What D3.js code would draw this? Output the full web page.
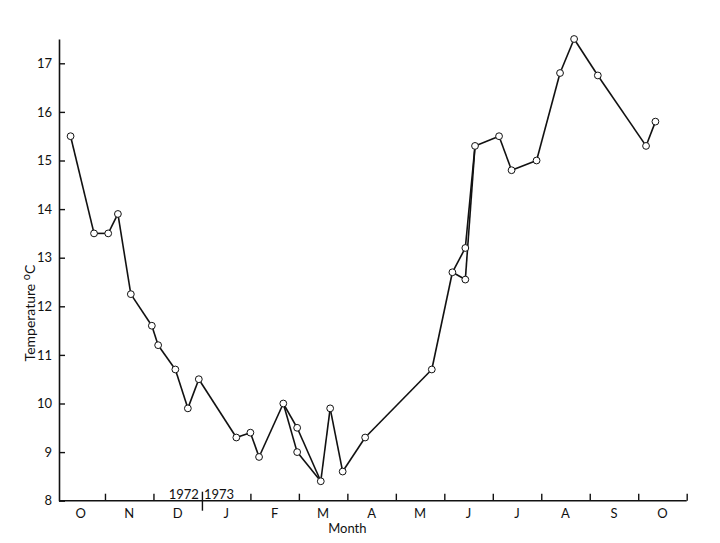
<!DOCTYPE html>
<html>
<head>
<meta charset="utf-8">
<script src="https://cdn.jsdelivr.net/npm/d3@7"></script>
<style>
  html, body { margin: 0; padding: 0; background: #fff; }
  svg { display: block; }
  text { font-family: Lato, "DejaVu Sans", sans-serif; fill: #111; }
</style>
</head>
<body>
<svg id="chart" width="720" height="543"></svg>
<script>
// Sampling dates (Oct 1972 – Oct 1973); repeated dates carry two readings
const dates = [
  "1972-10-10", "1972-10-25", "1972-11-03", "1972-11-09", "1972-11-17", "1972-11-30",
  "1972-12-04", "1972-12-15", "1972-12-23", "1972-12-30",
  "1973-01-23", "1973-02-01", "1973-02-06", "1973-02-20", "1973-02-28", "1973-02-28",
  "1973-03-15", "1973-03-21", "1973-03-29", "1973-04-12", "1973-05-24",
  "1973-06-06", "1973-06-14", "1973-06-14", "1973-06-20",
  "1973-07-05", "1973-07-13", "1973-07-29", "1973-08-13", "1973-08-22",
  "1973-09-06", "1973-10-06", "1973-10-12"
];
const temps = [
  15.5, 13.5, 13.5, 13.9, 12.25, 11.6,
  11.2, 10.7, 9.9, 10.5,
  9.3, 9.4, 8.9, 10.0, 9.5, 9.0,
  8.4, 9.9, 8.6, 9.3, 10.7,
  12.7, 13.2, 12.55, 15.3,
  15.5, 14.8, 15.0, 16.8, 17.5,
  16.75, 15.3, 15.8
];
const monthLabels = ["O", "N", "D", "J", "F", "M", "A", "M", "J", "J", "A", "S", "O"];
const yTicks = [8, 9, 10, 11, 12, 13, 14, 15, 16, 17];
const yearLabels = ["1972", "1973"];
const xTitle = "Month";
const yTitle = "Temperature";

// convert a date to months elapsed since 1 Oct 1972 (equal-width months)
function monthPos(s) {
  const [yr, mo, dy] = s.split("-").map(Number);
  const dim = new Date(yr, mo, 0).getDate();
  return (yr - 1972) * 12 + (mo - 10) + (dy - 1) / dim;
}

const data = dates.map((d, i) => ({ key: d, m: monthPos(d), t: temps[i] }));

const svg = d3.select("#chart");
const axisX0 = 59;
const x = d3.scaleLinear().domain([0, 13]).range([56.5, 686.7]);
const y = d3.scaleLinear().domain([8, 17.5]).range([500.7, 39]);

// Y axis
const yAxis = svg.append("g")
  .attr("transform", `translate(${axisX0},0)`)
  .call(d3.axisLeft(y).tickValues(yTicks).tickSize(-6).tickSizeOuter(0).tickPadding(7).tickFormat(d3.format("d")));
yAxis.select(".domain").attr("stroke", "#111").attr("stroke-width", 1.6);
yAxis.selectAll(".tick line").attr("stroke", "#111").attr("stroke-width", 1.4);
yAxis.selectAll(".tick text").attr("font-size", 13).attr("font-family", "Lato, sans-serif").attr("fill", "#111");

// X axis (month boundaries)
const bounds = d3.range(1, 14);
const xAxis = svg.append("g")
  .attr("transform", `translate(0,${y(8)})`)
  .call(d3.axisBottom(x).tickValues(bounds).tickSize(-7).tickSizeOuter(0).tickFormat(""));
xAxis.select(".domain").remove();
xAxis.append("line")
  .attr("x1", axisX0).attr("x2", x(13)).attr("y1", 0).attr("y2", 0)
  .attr("stroke", "#111").attr("stroke-width", 1.6);
xAxis.selectAll(".tick line").attr("stroke", "#111").attr("stroke-width", 1.4)
  .filter(d => d === 3).attr("y1", 10).attr("y2", -9);

// month labels
svg.append("g").selectAll("text").data(monthLabels).join("text")
  .attr("x", (d, i) => x(i + 0.5))
  .attr("y", 518)
  .attr("text-anchor", "middle")
  .attr("font-size", 13)
  .text(d => d);

// year labels around the year divide
svg.append("text").attr("x", x(3) - 3).attr("y", 499).attr("text-anchor", "end")
  .attr("font-size", 13).text(yearLabels[0]);
svg.append("text").attr("x", x(3) + 2).attr("y", 499).attr("text-anchor", "start")
  .attr("font-size", 13).text(yearLabels[1]);

// axis titles
svg.append("text").attr("x", x(6)).attr("y", 533).attr("text-anchor", "middle")
  .attr("font-size", 13).text(xTitle);
const yt = svg.append("text")
  .attr("transform", "translate(35,313) rotate(-90)")
  .attr("text-anchor", "middle")
  .attr("font-size", 14);
yt.append("tspan").text(yTitle + " ");
yt.append("tspan").attr("font-size", 11).attr("dy", -5).text("o");
yt.append("tspan").attr("dy", 5).text("C");

// connecting lines: each sampling date joined to every reading of the next date
const groups = d3.groups(data, d => d.key);
const segs = [];
for (let i = 0; i < groups.length - 1; i++) {
  for (const a of groups[i][1]) for (const b of groups[i + 1][1]) segs.push([a, b]);
}
const line = d3.line().x(d => x(d.m)).y(d => y(d.t));
svg.append("g").selectAll("path").data(segs).join("path")
  .attr("d", line)
  .attr("fill", "none")
  .attr("stroke", "#111")
  .attr("stroke-width", 1.6)
  .attr("stroke-linejoin", "round");

// points
svg.append("g").selectAll("circle").data(data).join("circle")
  .attr("cx", d => x(d.m))
  .attr("cy", d => y(d.t))
  .attr("r", 3.4)
  .attr("fill", "#fff")
  .attr("stroke", "#111")
  .attr("stroke-width", 1);
</script>
</body>
</html>
